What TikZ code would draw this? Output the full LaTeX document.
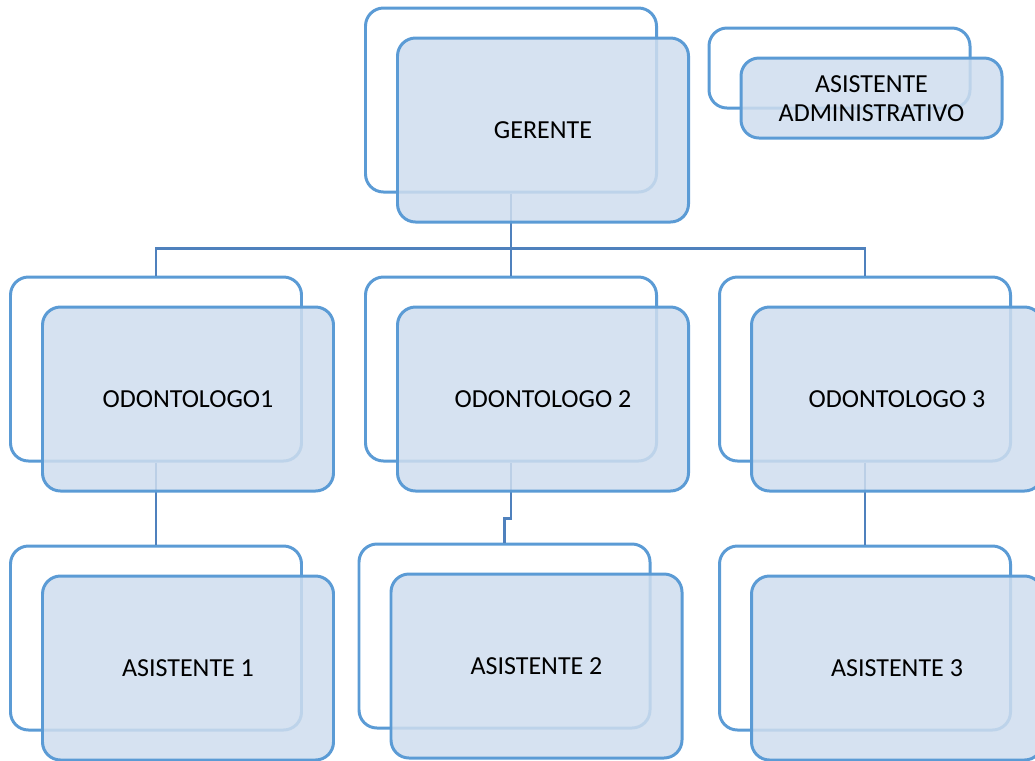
\documentclass[tikz,border=0pt]{standalone}
\usepackage{fontspec}
\setmainfont{Carlito}
\definecolor{boxline}{HTML}{5B9BD5}
\definecolor{boxfill}{HTML}{CFDDEE}
\definecolor{connline}{HTML}{4F81BD}
\tikzset{
  back/.style={rectangle, rounded corners=0.36cm, draw=boxline, line width=1.7pt,
    minimum width=5.82cm, minimum height=3.68cm},
  front/.style={back, fill=boxfill, fill opacity=0.85, text opacity=1,
    xshift=0.64cm, yshift=-0.6cm, font=\fontsize{14.8}{16.5}\selectfont, align=center},
  small/.style={minimum width=5.22cm, minimum height=1.6cm},
  conn/.style={draw=connline, line width=1.3pt}
}
\begin{document}
\begin{tikzpicture}

\useasboundingbox (0,0) rectangle (20.7,-15.2);
\clip (0,0) rectangle (20.7,-15.2);

% back frames
\node (gback) [back] at (10.22,-2.00) {};
\node (aback) [back, small] at (16.79,-1.36) {};
\node (o1back) [back] at (3.12,-7.38) {};
\node (o2back) [back] at (10.22,-7.38) {};
\node (o3back) [back] at (17.30,-7.38) {};
\node (a1back) [back] at (3.12,-12.76) {};
\node (a2back) [back] at (10.09,-12.72) {};
\node (a3back) [back] at (17.30,-12.76) {};

% lines
\draw [conn] (gback.south) -- +(0,-1.1) coordinate (bus);
\draw [conn] (o1back.north) |- (bus) -| (o3back.north);
\draw [conn] (bus) -- (o2back.north);
\draw [conn] (o1back.south) -- (a1back.north);
\draw [conn] (o2back.south) -- +(0,-1.12) -| (a2back.north);
\draw [conn] (o3back.south) -- (a3back.north);

% front boxes
\node (gfront) [front] at (gback) {GERENTE};
\node (afront) [front, small] at (aback)
  {\raisebox{-1.8pt}[\height][\depth]{\begin{tabular}{@{}c@{}}ASISTENTE\\ADMINISTRATIVO\end{tabular}}};
\node (o1front) [front] at (o1back) {ODONTOLOGO1};
\node (o2front) [front] at (o2back) {ODONTOLOGO 2};
\node (o3front) [front] at (o3back) {ODONTOLOGO 3};
\node (a1front) [front] at (a1back) {ASISTENTE 1};
\node (a2front) [front] at (a2back) {ASISTENTE 2};
\node (a3front) [front] at (a3back) {ASISTENTE 3};

\end{tikzpicture}
\end{document}
